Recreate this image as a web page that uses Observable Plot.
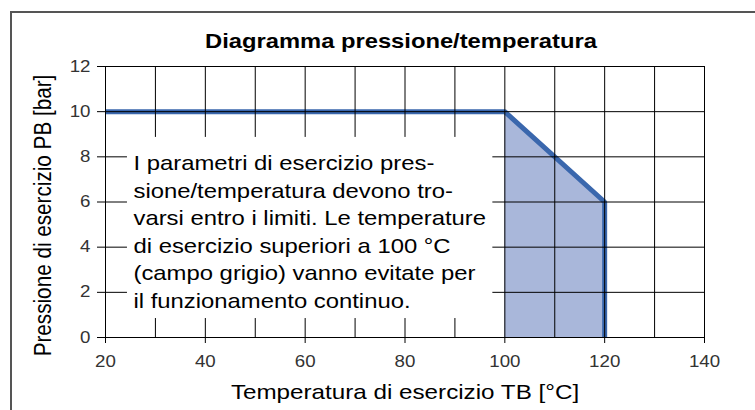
<!DOCTYPE html>
<html>
<head>
<meta charset="utf-8">
<script src="https://cdn.jsdelivr.net/npm/d3@7"></script>
<script src="https://cdn.jsdelivr.net/npm/@observablehq/plot@0.6"></script>
<style>
  html, body { margin: 0; padding: 0; background: #fff; overflow: hidden; }
  #wrap { position: relative; width: 755px; height: 410px; overflow: hidden; }
  #border { position: absolute; left: 10px; top: 11px; width: 800px; height: 500px; border: 2px solid #555; pointer-events: none; }
  #chart svg { display: block; }
  #chart [aria-label="x-axis tick label"], #chart [aria-label="y-axis tick label"] { fill: #333; }
</style>
</head>
<body>
<div id="wrap">
  <div id="chart"></div>
  <div id="border"></div>
</div>
<script>
// Data
const curveTemps = [20, 100, 120, 120];
const curvePressures = [10, 10, 6, 0];
const areaTemps = [100, 120];
const areaPressures = [10, 6];
const xTicks = [20, 40, 60, 80, 100, 120, 140];
const yTicks = [0, 2, 4, 6, 8, 10, 12];
const xGrid = [30, 40, 50, 60, 70, 80, 90, 100, 110, 120, 130];
const yGrid = [2, 4, 6, 8, 10];
const noteBox = {x1: 24.4, x2: 97.6, y1: 0.84, y2: 8.86};
const notePos = {x: 25.6, y: 8.28};
const title = "Diagramma pressione/temperatura";
const xLabel = "Temperatura di esercizio TB [°C]";
const yLabel = "Pressione di esercizio PB [bar]";
const noteLines = [
  "I parametri di esercizio pres-",
  "sione/temperatura devono tro-",
  "varsi entro i limiti. Le temperature",
  "di esercizio superiori a 100 °C",
  "(campo grigio) vanno evitate per",
  "il funzionamento continuo."
];
const textStretch = 1.17; // the reference lettering is horizontally widened

const curve = curveTemps.map((t, i) => ({t, p: curvePressures[i]}));
const area = areaTemps.map((t, i) => ({t, p: areaPressures[i]}));

const chart = Plot.plot({
  width: 755,
  height: 410,
  marginLeft: 105,
  marginRight: 51,
  marginTop: 66,
  marginBottom: 73,
  style: {fontFamily: "Arial, 'Liberation Sans', sans-serif", background: "transparent", color: "#000"},
  x: {domain: [20, 140], label: null},
  y: {domain: [0, 12], label: null},
  marks: [
    Plot.areaY(area, {x: "t", y: "p", y1: 0, fill: "#a9b7da"}),
    Plot.line(curve, {x: "t", y: "p", stroke: "#3a67ad", strokeWidth: 5, strokeLinejoin: "miter", strokeLinecap: "butt"}),
    Plot.ruleX(xGrid, {stroke: "#000", strokeWidth: 1}),
    Plot.ruleY(yGrid, {stroke: "#000", strokeWidth: 1}),
    Plot.rect([noteBox], {x1: "x1", x2: "x2", y1: "y1", y2: "y2", fill: "#fff"}),
    Plot.frame({stroke: "#000", strokeWidth: 1}),
    Plot.axisX({ticks: xTicks, tickSize: 6, tickPadding: 12, fontSize: 16, label: null}),
    Plot.axisY({ticks: yTicks, tickSize: 8, tickPadding: 7, fontSize: 16, label: null}),
    Plot.text([title], {frameAnchor: "top", dy: -25, dx: -4, fontSize: 20.3, fontWeight: "bold", lineAnchor: "middle", textAnchor: "middle"}),
    Plot.text([xLabel], {frameAnchor: "bottom", dy: 55, fontSize: 20.7, lineAnchor: "middle", textAnchor: "middle"}),
    Plot.text([yLabel], {frameAnchor: "left", dx: -62, dy: 13.5, rotate: -90, fontSize: 20.7, lineAnchor: "middle", textAnchor: "middle"}),
    Plot.text([noteLines.join("\n")], {x: () => notePos.x, y: () => notePos.y, fontSize: 20.4, lineHeight: 1.35, textAnchor: "start", lineAnchor: "top"})
  ]
});
// widen lettering horizontally (in screen space) like the reference
chart.querySelectorAll("text").forEach((el) => {
  const tr = el.getAttribute("transform");
  if (!tr) return;
  el.setAttribute("transform", tr + (tr.includes("rotate") ? ` scale(1,${textStretch})` : ` scale(${textStretch},1)`));
});
document.getElementById("chart").appendChild(chart);
</script>
</body>
</html>
